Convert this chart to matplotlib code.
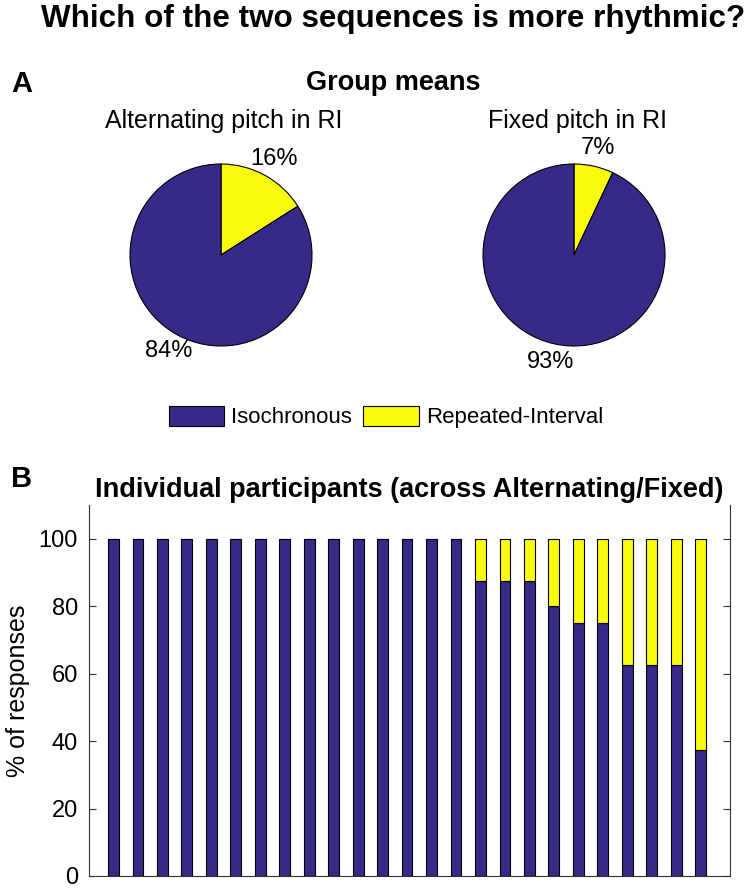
import numpy as np
import matplotlib
matplotlib.use("Agg")
import matplotlib.pyplot as plt

plt.rcParams['font.family'] = ['Liberation Sans', 'DejaVu Sans']

navy = '#352a87'
yellow = '#f9fb0e'

conditions = ['Alternating pitch in RI', 'Fixed pitch in RI']
ri_pct = [16, 7]
iso_pct = [84, 93]
responses = ['Isochronous', 'Repeated-Interval']

# % of responses per participant
part_iso = [100, 100, 100, 100, 100, 100, 100, 100, 100, 100, 100, 100, 100, 100, 100,
            87.5, 87.5, 87.5, 80, 75, 75, 62.5, 62.5, 62.5, 37.5]
part_ri = [0, 0, 0, 0, 0, 0, 0, 0, 0, 0, 0, 0, 0, 0, 0,
           12.5, 12.5, 12.5, 20, 25, 25, 37.5, 37.5, 37.5, 62.5]

W, H = 750, 890
fig = plt.figure(figsize=(W / 100, H / 100), dpi=100)


def fx(px):
    return px / W


def fy(py):
    return 1 - py / H


fig.text(fx(393), fy(27), 'Which of the two sequences is more rhythmic?',
         ha='center', va='baseline', fontsize=22.6, fontweight='bold')
fig.text(fx(11), fy(92), 'A', ha='left', va='baseline', fontsize=21, fontweight='bold')
fig.text(fx(393), fy(90), 'Group means', ha='center', va='baseline',
         fontsize=19.5, fontweight='bold')
fig.text(fx(11), fy(487), 'B', ha='left', va='baseline', fontsize=21, fontweight='bold')

# pies
centers = [221, 574]
r = 91
s = 2 * r * 1.3
wedges = None
for i, cx in enumerate(centers):
    ax = fig.add_axes([fx(cx - s / 2), fy(255 + s / 2), s / W, s / H])
    vals = [ri_pct[i], iso_pct[i]]
    w, t = ax.pie(vals, labels=[f'{v}%' for v in vals], colors=[yellow, navy],
                  startangle=90, counterclock=False, labeldistance=1.2,
                  wedgeprops=dict(edgecolor='black', linewidth=0.8),
                  textprops=dict(fontsize=17, ha='center', va='center'))
    ax.set_xlim(-1.3, 1.3)
    ax.set_ylim(-1.3, 1.3)
    fig.text(fx(cx + 3), fy(128), conditions[i], ha='center', va='baseline', fontsize=18)
    if wedges is None:
        wedges = w

fig.legend([wedges[1], wedges[0]], responses, loc='center',
           bbox_to_anchor=(fx(386), fy(417)), ncol=2, frameon=False,
           fontsize=16, handlelength=2.5, handleheight=1.0,
           handletextpad=0.32, columnspacing=0.5)

# individual participants
ax = fig.add_axes([fx(89), fy(876), (730 - 89) / W, (876 - 505) / H])
x = np.arange(1, len(part_iso) + 1)
ax.bar(x, part_iso, 0.44, color=navy, edgecolor='black', linewidth=0.8)
ax.bar(x, part_ri, 0.44, bottom=part_iso, color=yellow, edgecolor='black', linewidth=0.8)
ax.set_xlim(0, 26.2)
ax.set_ylim(0, 110)
ax.set_xticks([])
ax.set_yticks([0, 20, 40, 60, 80, 100])
ax.tick_params(axis='y', direction='in', length=5, pad=8, labelsize=17,
               right=True, color='#333333')
ax.spines['top'].set_visible(False)
for sp in ['left', 'right', 'bottom']:
    ax.spines[sp].set_color('#333333')
    ax.spines[sp].set_linewidth(0.8)
ax.set_ylabel('% of responses', fontsize=18, labelpad=6)
ax.set_title('Individual participants (across Alternating/Fixed)',
             fontsize=19.5, fontweight='bold', pad=5.8)

fig.savefig('out.png', dpi=100)
